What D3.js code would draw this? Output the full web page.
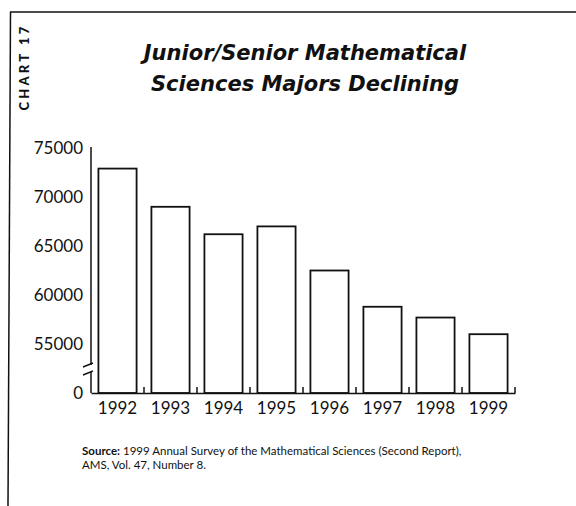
<!DOCTYPE html>
<html>
  <head>
    <meta charset="utf-8">
    <script src="https://d3js.org/d3.v7.min.js"></script>
  </head>
  <style>
body { margin: 0; background: #fff; }
text { font-family: Lato, "Open Sans", sans-serif; fill: #111; }
  </style>
  <body>
    <div id="my_chart"></div>
    <script type="text/javascript">
        // data
        var years = ["1992", "1993", "1994", "1995", "1996", "1997", "1998", "1999"];
        var majors = [72900, 69000, 66200, 67000, 62500, 58800, 57700, 56000];
        var yTicks = [55000, 60000, 65000, 70000, 75000];
        var titleLines = ["Junior/Senior Mathematical", "Sciences Majors Declining"];

        var W = 576, H = 506;
        var svg = d3.select("#my_chart")
            .append("svg")
                .attr("width", W)
                .attr("height", H);

        // frame lines (top and left)
        svg.append("line").attr("x1", 10).attr("y1", 12).attr("x2", W).attr("y2", 12)
            .attr("stroke", "#111").attr("stroke-width", 1.5);
        svg.append("line").attr("x1", 10.5).attr("y1", 12).attr("x2", 8).attr("y2", H)
            .attr("stroke", "#111").attr("stroke-width", 1.5);

        svg.append("text")
            .attr("transform", "translate(29,67) rotate(-90)")
            .attr("text-anchor", "middle")
            .attr("font-size", "13px")
            .attr("font-weight", "900")
            .attr("letter-spacing", "3.2px")
            .text("CHART 17");

        svg.append("g").selectAll("text")
            .data(titleLines)
            .enter().append("text")
                .attr("x", 305)
                .attr("y", function(d, i) { return 60 + i * 31; })
                .attr("text-anchor", "middle")
                .style("font-family", "'DejaVu Sans', sans-serif")
                .attr("font-size", "21px")
                .attr("font-weight", "bold")
                .attr("font-style", "italic")
                .text(function(d) { return d; });

        var x = d3.scaleBand()
            .domain(years)
            .range([91, 515])
            .paddingInner(0.28)
            .paddingOuter(0.14);

        // value axis starts at 50000 (drawn with a break and labelled 0)
        var y = d3.scaleLinear()
            .domain([50000, 75000])
            .range([393, 148]);

        // y axis line with break
        var ax = svg.append("g").attr("stroke", "#111").attr("stroke-width", 1.5).attr("fill", "none");
        ax.append("line").attr("x1", 91).attr("x2", 91).attr("y1", y(75000) - 1).attr("y2", 365);
        ax.append("line").attr("x1", 91).attr("x2", 91).attr("y1", 372).attr("y2", y(50000));
        ax.append("line").attr("x1", 83).attr("y1", 367).attr("x2", 93).attr("y2", 363);
        ax.append("line").attr("x1", 83).attr("y1", 375).attr("x2", 93).attr("y2", 371);

        // y labels
        svg.append("g").selectAll("text")
            .data(yTicks)
            .enter().append("text")
                .attr("x", 83)
                .attr("y", function(d) { return y(d); })
                .attr("dy", "0.36em")
                .attr("text-anchor", "end")
                .attr("font-size", "17px")
                .text(function(d) { return d; });
        svg.append("text")
            .attr("x", 83).attr("y", y(50000))
            .attr("dy", "0.36em")
            .attr("text-anchor", "end")
            .attr("font-size", "17px")
            .text("0");

        // bars
        svg.append("g").selectAll("rect")
            .data(majors)
            .enter().append("rect")
                .attr("x", function(d, i) { return x(years[i]); })
                .attr("y", function(d) { return y(d); })
                .attr("width", x.bandwidth())
                .attr("height", function(d) { return y(50000) - y(d); })
                .attr("fill", "#fff")
                .attr("stroke", "#111")
                .attr("stroke-width", 1.8);

        // x axis: baseline with small upward ticks at band boundaries
        var xAxis = svg.append("g").attr("transform", "translate(0," + y(50000) + ")");
        xAxis.call(d3.axisBottom(x).tickSize(0).tickPadding(9).tickSizeOuter(0));
        xAxis.select(".domain").attr("stroke", "#111").attr("stroke-width", 1.5);
        xAxis.selectAll(".tick text")
            .attr("font-size", "17px")
            .attr("fill", "#111");
        var edge = function(d) { return x(d) + x.bandwidth() + x.step() * x.paddingOuter(); };
        xAxis.selectAll(".bound")
            .data(years)
            .enter().append("line")
                .attr("class", "bound")
                .attr("x1", edge)
                .attr("x2", edge)
                .attr("y1", 0).attr("y2", -6)
                .attr("stroke", "#111").attr("stroke-width", 1.5);

        // source note
        var src = svg.append("text")
            .attr("x", 82).attr("y", 455)
            .attr("font-size", "11.5px");
        src.append("tspan").attr("font-weight", "bold").text("Source:");
        src.append("tspan").text(" 1999 Annual Survey of the Mathematical Sciences (Second Report),");
        svg.append("text")
            .attr("x", 82).attr("y", 469)
            .attr("font-size", "11.5px")
            .text("AMS, Vol. 47, Number 8.");
    </script>
  </body>
</html>
